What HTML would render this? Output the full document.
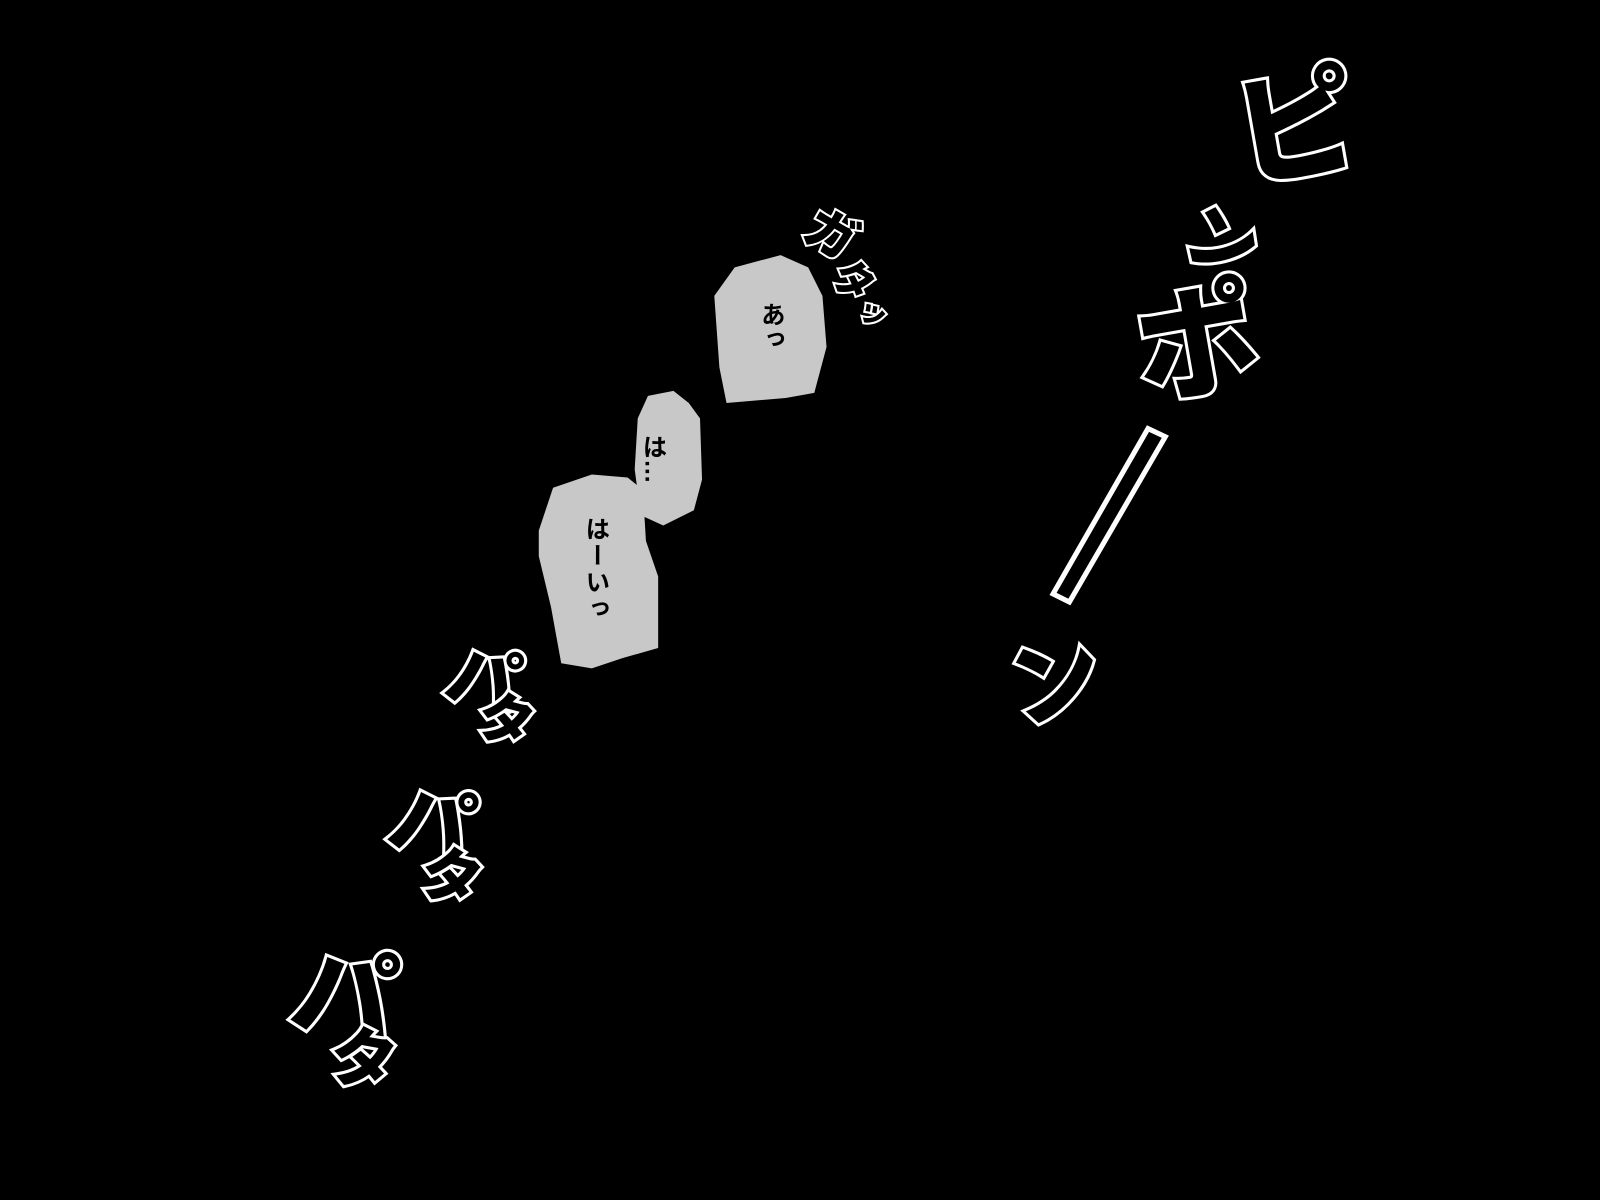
<!DOCTYPE html>
<html><head><meta charset="utf-8"><style>
html,body{margin:0;padding:0;background:#000;width:1600px;height:1200px;overflow:hidden}
svg{display:block}
.sfx{font-family:"Liberation Sans","Noto Sans CJK JP",sans-serif;font-weight:900;fill:#000;stroke:#fff;stroke-width:6;paint-order:stroke}
.d{font-family:"Liberation Sans","Noto Sans CJK JP",sans-serif;font-weight:bold;font-size:24px;fill:#000;writing-mode:vertical-rl}
</style></head><body>
<svg width="1600" height="1200" viewBox="0 0 1568 1176" preserveAspectRatio="none">
<rect width="1568" height="1176" fill="#000"/>
<path d="M700 290 L720 262 L765 250 L792 262 L806 290 L810 340 L798 385 L770 390 L712 395 L705 360 Z" fill="#c8c8c8"/>
<path d="M625 410 L635 388 L660 383 L675 395 L686 410 L688 470 L680 500 L650 515 L628 505 L622 460 Z" fill="#c8c8c8"/>
<path d="M528 520 L542 478 L580 465 L615 468 L630 480 L633 530 L645 565 L645 635 L610 645 L580 655 L550 650 L540 595 L528 545 Z" fill="#c8c8c8"/>
<text class="d" x="756" y="296">あっ</text>
<text class="d" x="640" y="426">は…</text>
<text class="d" x="584" y="506" style="letter-spacing:2px">はーいっ</text>
<text class="sfx" font-size="120" x="1210" y="165" transform="rotate(-10 1280 120)">ピ</text>
<text class="sfx" font-size="70" x="1165" y="262" transform="rotate(20 1200 230)">ン</text>
<text class="sfx" font-size="120" x="1112" y="378" transform="rotate(-10 1180 330)">ポ</text>
<path d="M1125 420 L1142 428 L1048 590 L1032 582 Z" fill="#000" stroke="#fff" stroke-width="5"/>
<text class="sfx" font-size="90" x="990" y="700" transform="rotate(-15 1030 670)">ン</text>
<text class="sfx" font-size="50" x="790" y="250" transform="rotate(30 820 230)" style="stroke-width:4">ガ</text>
<text class="sfx" font-size="40" x="820" y="290" transform="rotate(30 840 270)" style="stroke-width:4">タ</text>
<text class="sfx" font-size="28" x="845" y="315" transform="rotate(30 855 300)" style="stroke-width:4">ッ</text>
<text class="sfx" font-size="70" x="440" y="690" transform="rotate(15 470 660)">パ</text>
<text class="sfx" font-size="55" x="470" y="725" transform="rotate(15 495 700)">タ</text>
<text class="sfx" font-size="80" x="385" y="835" transform="rotate(15 420 800)">パ</text>
<text class="sfx" font-size="60" x="415" y="880" transform="rotate(15 440 850)">タ</text>
<text class="sfx" font-size="100" x="290" y="1010" transform="rotate(10 330 960)">パ</text>
<text class="sfx" font-size="65" x="325" y="1060" transform="rotate(10 350 1030)">タ</text>
</svg>
</body></html>
